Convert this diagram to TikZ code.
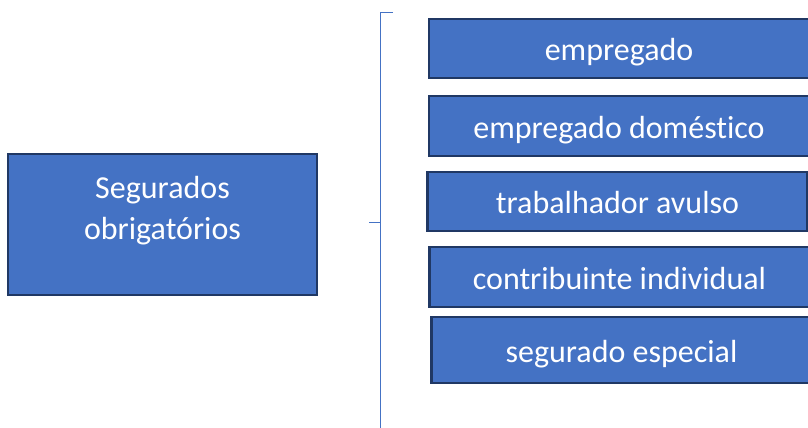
\documentclass[tikz,border=0pt]{standalone}
\usepackage{fontspec}
\setmainfont{Carlito}[Ligatures=NoCommon]
\usetikzlibrary{positioning}
\definecolor{boxblue}{HTML}{4472C4}
\definecolor{boxedge}{HTML}{203864}
\begin{document}
\begin{tikzpicture}[x=1pt, y=-1pt, node distance=75pt,
  font=\fontsize{32}{41}\selectfont,
  blk/.style={rectangle, draw=boxedge, fill=boxblue, line width=2.5pt, inner sep=0pt},
  cat/.style={blk, minimum width=380pt, minimum height=59pt, text=white,
    text height=32pt, text depth=8pt},
  lbl/.style={text=white, align=center},
  brk/.style={draw=boxblue, line width=1.5pt},
]
\useasboundingbox (0,0) rectangle (808,428);
%left box
\node[blk, minimum width=309pt, minimum height=141pt] (segob) at (162.5,224.5) {};
\node[lbl] (segob-t) at ([yshift=14pt]segob.center) {Segurados\\obrigatórios};
%right boxes
\node[cat] (emp) at (619,48.5) {empregado};
\node[cat, minimum height=60pt] (dom) [below of=emp, node distance=77.5pt] {empregado doméstico};
\node[cat] (avu) [below of=dom, node distance=75.5pt, xshift=-1.5pt] {trabalhador avulso};
\node[cat, minimum height=60pt] (ind) [below of=avu, node distance=75.5pt, xshift=2pt] {contribuinte individual};
\node[cat, minimum height=66pt] (esp) [below of=ind, node distance=73pt, xshift=2pt] {segurado especial};
%bracket
\coordinate (br-top) at (393,12.5);
\coordinate (br-mid) at (369,222.7);
\coordinate (br-bot) at (380.5,430);
\draw[brk] (br-top) -| (br-bot);
\draw[brk] (br-mid) -- (br-mid -| br-bot);
\end{tikzpicture}
\end{document}
